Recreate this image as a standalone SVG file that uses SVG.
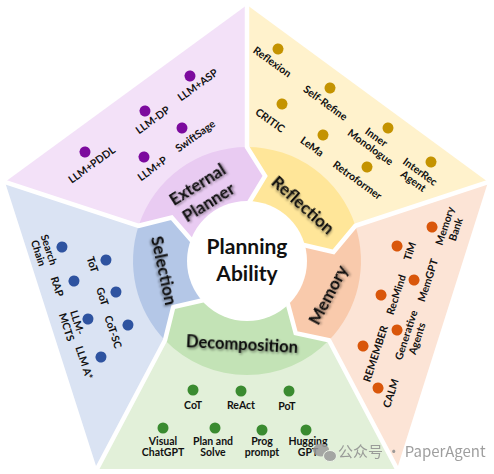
<svg xmlns="http://www.w3.org/2000/svg" width="494" height="474" viewBox="0 0 494 474">
<style>
text{font-family:Lato,"Liberation Sans",sans-serif;font-weight:bold;fill:#111;text-anchor:middle}
.it{font-size:10.5px}
.rl{font-size:17px;filter:url(#sh)}
.ctr{font-size:21px}
.gap{fill:none;stroke:#fff;stroke-width:4.5;stroke-linejoin:miter;stroke-miterlimit:6}
.dp{fill:#7C0A9E}.dy{fill:#C49300}.do{fill:#D9560A}.dg{fill:#3A8B30}.db{fill:#2E53A0}
.wm{font-family:"Noto Sans CJK SC","Liberation Sans",sans-serif;font-weight:normal;font-size:15px;fill:#8e8e8e;text-anchor:start}
</style>
<defs>
<filter id="sh" x="-20%" y="-40%" width="140%" height="180%">
<feDropShadow dx="1.2" dy="1.5" stdDeviation="1.1" flood-color="#000" flood-opacity="0.45"/>
</filter>
</defs>

<g id="outer-sectors">
<polygon id="sec-external" points="247,261 138.6,225.8 5,182 247,5 247,147" fill="#F3E1F8"/>
<polygon id="sec-reflection" points="247,261 247,147 247,5 488,182 355.4,225.8" fill="#FFF2CC"/>
<polygon id="sec-memory" points="247,261 355.4,225.8 488,182 397,469 329,340.2" fill="#FCE4D6"/>
<polygon id="sec-decomposition" points="247,261 329,340.2 397,469 97,469 165,340.2" fill="#E2F0D9"/>
<polygon id="sec-selection" points="247,261 165,340.2 97,469 5,182 138.6,225.8" fill="#DAE3F3"/>
</g>

<g id="ring">
<path id="ring-external" d="M138.6,225.8 A114,114 0 0 1 247,147 L265.1,175.9 L247,206 A55,55 0 0 0 194.7,244 L171.7,217.5 Z" fill="#E9CBF2"/>
<path id="ring-reflection" d="M247,147 A114,114 0 0 1 355.4,225.8 L333.5,251.9 L299.3,244 A55,55 0 0 0 247,206 L265.1,175.9 Z" fill="#FFE699"/>
<path id="ring-memory" d="M355.4,225.8 A114,114 0 0 1 329,340.2 L295.7,333.1 L286.6,299.2 A55,55 0 0 0 299.3,244 L333.5,251.9 Z" fill="#F9CAAC"/>
<path id="ring-decomposition" d="M329,340.2 A114,114 0 0 1 165,340.2 L173.2,307.1 L207.4,299.2 A55,55 0 0 0 286.6,299.2 L295.7,333.1 Z" fill="#C3E3B6"/>
<path id="ring-selection" d="M165,340.2 A114,114 0 0 1 138.6,225.8 L171.7,217.5 L194.7,244 A55,55 0 0 0 207.4,299.2 L173.2,307.1 Z" fill="#B4C7E7"/>
</g>

<g id="connectors">
<polyline class="gap" points="-4.5,178.9 138.6,225.8 171.7,217.5 194.7,244"/>
<polyline class="gap" points="247,-5 247,147 265.1,175.9 247,206"/>
<polyline class="gap" points="497.5,178.9 355.4,225.8 333.5,251.9 299.3,244"/>
<polyline class="gap" points="401.7,477.8 329,340.2 295.7,333.1 286.6,299.2"/>
<polyline class="gap" points="92.3,477.8 165,340.2 173.2,307.1 207.4,299.2"/>
</g>

<g id="center">
<circle cx="247" cy="261" r="60" fill="#fff"/>
<text class="ctr" x="247" y="254">Planning</text>
<text class="ctr" x="247" y="280.5">Ability</text>
</g>

<g id="ring-labels">
<g id="lbl-external" transform="translate(202.5,193) rotate(-32)"><text class="rl" y="-4.5">External</text><text class="rl" y="16.5">Planner</text></g>
<g id="lbl-reflection" transform="translate(303,205) rotate(42)"><text class="rl" y="6">Reflection</text></g>
<g id="lbl-memory" transform="translate(328,295) rotate(-62)"><text class="rl" y="6">Memory</text></g>
<g id="lbl-decomposition" transform="translate(242,344) rotate(3)"><text class="rl" y="6" style="font-size:16.5px">Decomposition</text></g>
<g id="lbl-selection" transform="translate(164,270.5) rotate(78)"><text class="rl" y="6">Selection</text></g>
</g>

<g id="external-planner-items">
<g id="n-llm-asp" transform="translate(190,76) rotate(-36)"><circle class="dp" r="5.5"/><text class="it" x="1" y="15.5">LLM+ASP</text></g>
<g id="n-llm-dp" transform="translate(145,111) rotate(-36)"><circle class="dp" r="5.5"/><text class="it" x="1" y="15.5">LLM-DP</text></g>
<g id="n-swiftsage" transform="translate(182,128) rotate(-36)"><circle class="dp" r="5.5"/><text class="it" x="6" y="18">SwiftSage</text></g>
<g id="n-llm-pddl" transform="translate(85,152) rotate(-36)"><circle class="dp" r="5.5"/><text class="it" x="-2" y="18">LLM+PDDL</text></g>
<g id="n-llm-p" transform="translate(144,157) rotate(-36)"><circle class="dp" r="5.5"/><text class="it" x="0" y="18">LLM+P</text></g>
</g>

<g id="reflection-items">
<g id="n-reflexion" transform="translate(278,49) rotate(36)"><circle class="dy" r="5.5"/><text class="it" x="3" y="17.5">Reflexion</text></g>
<g id="n-self-refine" transform="translate(330,88) rotate(36)"><circle class="dy" r="5.5"/><text class="it" x="5" y="18.5">Self-Refine</text></g>
<g id="n-critic" transform="translate(282,104) rotate(36)"><circle class="dy" r="5.5"/><text class="it" x="0" y="24">CRITIC</text></g>
<g id="n-lema" transform="translate(323,135) rotate(36)"><circle class="dy" r="5.5"/><text class="it" x="-2" y="19.5">LeMa</text></g>
<g id="n-inner-monologue" transform="translate(388,128) rotate(36)"><circle class="dy" r="5.5"/><text class="it" x="-4" y="18">Inner</text><text class="it" x="-3" y="29.5">Monologue</text></g>
<g id="n-retroformer" transform="translate(367,167) rotate(36)"><circle class="dy" r="5.5"/><text class="it" x="0" y="20">Retroformer</text></g>
<g id="n-interrec" transform="translate(431,162) rotate(36)"><circle class="dy" r="5.5"/><text class="it" x="-3" y="18">InterRec</text><text class="it" x="-3" y="29.5">Agent</text></g>
</g>

<g id="memory-items">
<g id="n-memory-bank" transform="translate(432,227) rotate(-72)"><circle class="do" r="5.5"/><text class="it" x="5" y="15.5">Memory</text><text class="it" x="5" y="27">Bank</text></g>
<g id="n-tim" transform="translate(397,246) rotate(-72)"><circle class="do" r="5.5"/><text class="it" x="-1" y="17.5">TiM</text></g>
<g id="n-memgpt" transform="translate(414,280) rotate(-72)"><circle class="do" r="5.5"/><text class="it" x="4" y="17">MemGPT</text></g>
<g id="n-recmind" transform="translate(381,295) rotate(-72)"><circle class="do" r="5.5"/><text class="it" x="5" y="18">RecMind</text></g>
<g id="n-generative" transform="translate(397,330) rotate(-72)"><circle class="do" r="5.5"/><text class="it" x="-2" y="14">Generative</text><text class="it" x="-2" y="25.5">Agents</text></g>
<g id="n-remember" transform="translate(363,346) rotate(-72)"><circle class="do" r="5.5"/><text class="it" x="-3.5" y="18">REMEMBER</text></g>
<g id="n-calm" transform="translate(378,388) rotate(-72)"><circle class="do" r="5.5"/><text class="it" x="-1" y="17.5">CALM</text></g>
</g>

<g id="decomposition-items">
<g id="n-cot" transform="translate(193,390)"><circle class="dg" r="5.5"/><text class="it" x="0" y="18.5">CoT</text></g>
<g id="n-react" transform="translate(241,391)"><circle class="dg" r="5.5"/><text class="it" x="0" y="18">ReAct</text></g>
<g id="n-pot" transform="translate(289,391)"><circle class="dg" r="5.5"/><text class="it" x="-2" y="18.5">PoT</text></g>
<g id="n-visual-chatgpt" transform="translate(163,428)"><circle class="dg" r="5.5"/><text class="it" x="0" y="17">Visual</text><text class="it" x="0" y="27.5">ChatGPT</text></g>
<g id="n-plan-solve" transform="translate(215,428)"><circle class="dg" r="5.5"/><text class="it" x="-2" y="17">Plan and</text><text class="it" x="-2" y="27.5">Solve</text></g>
<g id="n-progprompt" transform="translate(262,430)"><circle class="dg" r="5.5"/><text class="it" x="0" y="15">Prog</text><text class="it" x="0" y="25.5">prompt</text></g>
<g id="n-hugginggpt" transform="translate(306,430)"><circle class="dg" r="5.5"/><text class="it" x="2" y="15">Hugging</text><text class="it" x="2" y="25.5">GPT</text></g>
</g>

<g id="selection-items">
<g id="n-search-chain" transform="translate(62,247) rotate(72)"><circle class="db" r="5.5"/><text class="it" x="-1.5" y="17">Search</text><text class="it" x="-1.5" y="28">Chain</text></g>
<g id="n-tot" transform="translate(106,260) rotate(72)"><circle class="db" r="5.5"/><text class="it" x="0" y="18">ToT</text></g>
<g id="n-rap" transform="translate(74,281) rotate(72)"><circle class="db" r="5.5"/><text class="it" x="0" y="21.5">RAP</text></g>
<g id="n-got" transform="translate(116,292) rotate(72)"><circle class="db" r="5.5"/><text class="it" x="0" y="18">GoT</text></g>
<g id="n-llm-mcts" transform="translate(88,319) rotate(72)"><circle class="db" r="5.5"/><text class="it" x="0" y="15">LLM-</text><text class="it" x="1" y="26.5">MCTS</text></g>
<g id="n-cot-sc" transform="translate(128,325) rotate(72)"><circle class="db" r="5.5"/><text class="it" x="2" y="20">CoT-SC</text></g>
<g id="n-llm-astar" transform="translate(101,357) rotate(72)"><circle class="db" r="5.5"/><text class="it" x="0" y="21.5">LLM A*</text></g>
</g>

<g id="watermark" opacity="0.85">
<ellipse cx="321" cy="450" rx="8" ry="6.5" fill="#9a9a9a"/>
<ellipse cx="330" cy="456" rx="6.5" ry="5.5" fill="#9a9a9a" stroke="#eef5ea" stroke-width="1"/>
<text class="wm" x="338" y="457">公众号 · PaperAgent</text>
</g>
</svg>
